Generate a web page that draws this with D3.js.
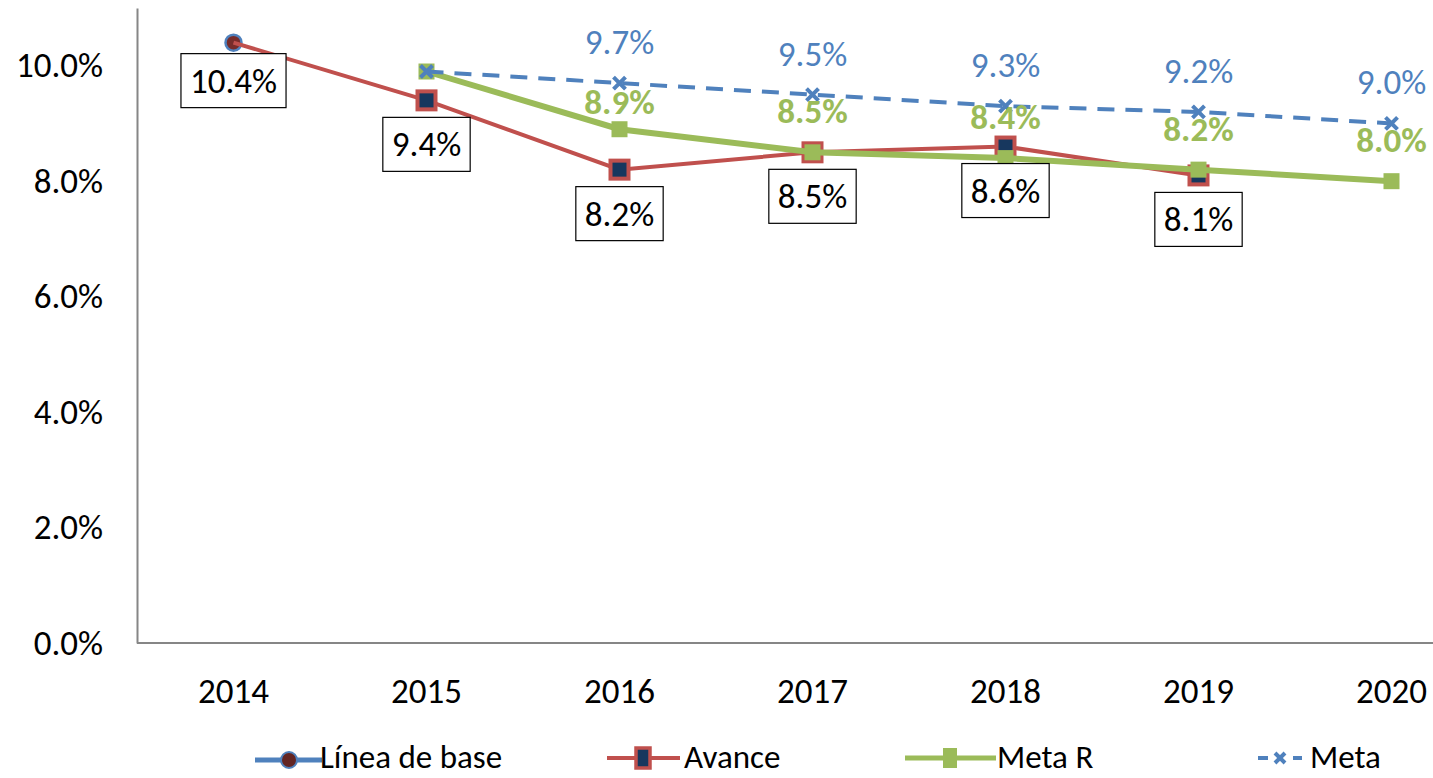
<!DOCTYPE html>
<html lang="es">
<head>
<meta charset="UTF-8">
<title>Avance y metas</title>
<style>
  body { margin: 0; background: #fff; }
  svg text { font-family: Calibri, Carlito, Lato, "Noto Sans", sans-serif; }
</style>
</head>
<body>
<script src="https://cdn.jsdelivr.net/npm/d3@7"></script>
<script>
    // data
    var years = ["2014", "2015", "2016", "2017", "2018", "2019", "2020"];
    var lineaBase = [0.104, null, null, null, null, null, null];
    var avance = [0.104, 0.094, 0.082, 0.085, 0.086, 0.081, null];
    var metaR = [null, 0.099, 0.089, 0.085, 0.084, 0.082, 0.080];
    var meta = [null, 0.099, 0.097, 0.095, 0.093, 0.092, 0.090];
    var yTicks = [0, 0.02, 0.04, 0.06, 0.08, 0.10];
    var legendNames = ["Línea de base", "Avance", "Meta R", "Meta"];

    var W = 1433, H = 778;
    var red = "#C0504D", green = "#9BBB59", blue = "#4F81BD", navy = "#17375E";
    var fs = 35;

    var svg = d3.select("body").append("svg")
            .attr("width", W)
            .attr("height", H);

    var x = d3.scalePoint().domain(years).range([137, 137 + 1351]).padding(0.5);
    var y = d3.scaleLinear().domain([0, 0.11]).range([643, 8]);
    var fmt = d3.format(".1%");

    // axes
    var yAxis = svg.append("g")
            .attr("transform", "translate(137,0)")
            .call(d3.axisLeft(y).tickValues(yTicks).tickFormat(fmt).tickSize(0).tickPadding(34));
    yAxis.select(".domain").attr("stroke", "#868686").attr("stroke-width", 2);
    yAxis.selectAll("text").attr("font-size", fs).attr("fill", "#000");

    var xAxis = svg.append("g")
            .attr("transform", "translate(0,643)");
    xAxis.append("line")
            .attr("x1", 137).attr("x2", W)
            .attr("stroke", "#868686").attr("stroke-width", 2);
    xAxis.selectAll("text").data(years).enter().append("text")
            .attr("x", function(d) { return x(d); })
            .attr("y", 60)
            .attr("text-anchor", "middle")
            .attr("font-size", fs)
            .text(function(d) { return d; });

    function pts(arr) {
        return years.map(function(d, i) { return {year: d, v: arr[i]}; })
                .filter(function(p) { return p.v != null; });
    }
    var line = d3.line().x(function(p) { return x(p.year); }).y(function(p) { return y(p.v); });

    // Linea de base marker
    svg.selectAll(".base").data(pts(lineaBase)).enter().append("circle")
            .attr("cx", function(p) { return x(p.year); })
            .attr("cy", function(p) { return y(p.v); })
            .attr("r", 8)
            .attr("fill", "#772C2A")
            .attr("stroke", blue).attr("stroke-width", 2.5);

    // Avance
    svg.append("path").datum(pts(avance))
            .attr("d", line)
            .attr("fill", "none").attr("stroke", red).attr("stroke-width", 4);
    svg.selectAll(".av").data(pts(avance).slice(1)).enter().append("rect")
            .attr("x", function(p) { return x(p.year) - 9; })
            .attr("y", function(p) { return y(p.v) - 9; })
            .attr("width", 18).attr("height", 18)
            .attr("fill", navy).attr("stroke", red).attr("stroke-width", 4);

    // Meta R
    svg.append("path").datum(pts(metaR))
            .attr("d", line)
            .attr("fill", "none").attr("stroke", green).attr("stroke-width", 6);
    svg.selectAll(".mr").data(pts(metaR)).enter().append("rect")
            .attr("x", function(p) { return x(p.year) - 8; })
            .attr("y", function(p) { return y(p.v) - 8; })
            .attr("width", 16).attr("height", 16)
            .attr("fill", green);

    // Meta
    svg.append("path").datum(pts(meta))
            .attr("d", line)
            .attr("fill", "none").attr("stroke", blue).attr("stroke-width", 4)
            .attr("stroke-dasharray", "17,11");
    function xMark(g, cx, cy, s) {
        g.append("path")
                .attr("d", "M" + (cx - s) + "," + (cy - s) + "L" + (cx + s) + "," + (cy + s) +
                        "M" + (cx - s) + "," + (cy + s) + "L" + (cx + s) + "," + (cy - s))
                .attr("stroke", blue).attr("stroke-width", 4);
    }
    pts(meta).forEach(function(p) { xMark(svg, x(p.year), y(p.v), 6); });

    // labels: Avance / Linea de base (boxed, below)
    var boxed = pts(avance);
    boxed.forEach(function(p, i) {
        var cy = y(p.v) + (i === 0 ? 38 : 44);
        var g = svg.append("g");
        var t = g.append("text")
                .attr("x", x(p.year)).attr("y", cy)
                .attr("text-anchor", "middle").attr("dominant-baseline", "central")
                .attr("font-size", fs).attr("fill", "#000")
                .text(fmt(p.v));
        var bb = t.node().getBBox();
        g.insert("rect", "text")
                .attr("x", bb.x - 9).attr("y", cy - 27)
                .attr("width", bb.width + 18).attr("height", 54)
                .attr("fill", "#fff").attr("stroke", "#000").attr("stroke-width", 1.2);
    });

    // Meta labels (blue, above)
    svg.selectAll(".ml").data(pts(meta).slice(1)).enter().append("text")
            .attr("x", function(p) { return x(p.year); })
            .attr("y", function(p) { return y(p.v) - 41; })
            .attr("text-anchor", "middle").attr("dominant-baseline", "central")
            .attr("font-size", fs).attr("fill", blue)
            .text(function(p) { return fmt(p.v); });

    // Meta R labels (green bold, above)
    var greenNudge = {"2016": 14};
    svg.selectAll(".mrl").data(pts(metaR).slice(1)).enter().append("text")
            .attr("x", function(p) { return x(p.year); })
            .attr("y", function(p) { return y(p.v) - 41 + (greenNudge[p.year] || 0); })
            .attr("text-anchor", "middle").attr("dominant-baseline", "central")
            .attr("font-size", fs).attr("font-weight", "bold").attr("fill", green)
            .text(function(p) { return fmt(p.v); });

    // legend
    var ly = 758;
    var leg = svg.append("g");
    var items = [
        {x0: 255, x1: 322, tx: 320},
        {x0: 607, x1: 680, tx: 684},
        {x0: 905, x1: 996, tx: 997},
        {x0: 1258, x1: 1305, tx: 1310}
    ];
    // Linea de base
    leg.append("line").attr("x1", items[0].x0).attr("x2", items[0].x1).attr("y1", ly + 2).attr("y2", ly + 2)
            .attr("stroke", blue).attr("stroke-width", 5);
    leg.append("circle").attr("cx", 289).attr("cy", ly + 2).attr("r", 8)
            .attr("fill", "#632523").attr("stroke", blue).attr("stroke-width", 2);
    // Avance
    leg.append("line").attr("x1", items[1].x0).attr("x2", items[1].x1).attr("y1", ly).attr("y2", ly)
            .attr("stroke", red).attr("stroke-width", 4);
    leg.append("rect").attr("x", 636).attr("y", ly - 10).attr("width", 14).attr("height", 20)
            .attr("fill", navy).attr("stroke", red).attr("stroke-width", 3.5);
    // Meta R
    leg.append("line").attr("x1", items[2].x0).attr("x2", items[2].x1).attr("y1", ly).attr("y2", ly)
            .attr("stroke", green).attr("stroke-width", 5);
    leg.append("rect").attr("x", 943).attr("y", ly - 10).attr("width", 14).attr("height", 20)
            .attr("fill", green);
    // Meta
    leg.append("line").attr("x1", 1258).attr("x2", 1268).attr("y1", ly).attr("y2", ly)
            .attr("stroke", blue).attr("stroke-width", 4);
    leg.append("line").attr("x1", 1293).attr("x2", 1302).attr("y1", ly).attr("y2", ly)
            .attr("stroke", blue).attr("stroke-width", 4);
    xMark(leg, 1280, ly, 5);

    leg.selectAll("text").data(legendNames).enter().append("text")
            .attr("x", function(d, i) { return items[i].tx; })
            .attr("y", ly + 10)
            .attr("font-size", 33)
            .attr("fill", "#000")
            .text(function(d) { return d; });
</script>
</body>
</html>
